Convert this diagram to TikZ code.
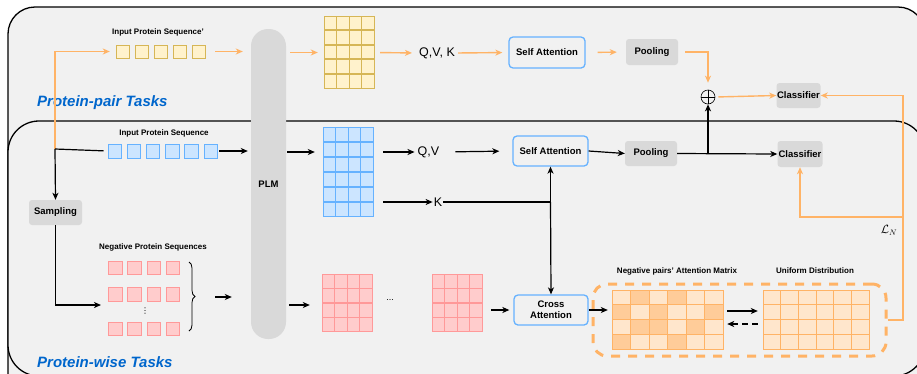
\documentclass[tikz,border=0pt]{standalone}
\usepackage{fontspec}
\setmainfont{Liberation Sans}
\newfontfamily\symfont{DejaVu Sans}
\usepackage{amsmath,amssymb}
\usetikzlibrary{arrows.meta,positioning,calc,decorations.pathreplacing}
\definecolor{bggray}{HTML}{F1F1F1}
\definecolor{boxgray}{HTML}{D9D9D9}
\definecolor{attblue}{HTML}{66B2FF}
\definecolor{cellblue}{HTML}{CCE5FF}
\definecolor{cellyel}{HTML}{FFF2CC}
\definecolor{lineyel}{HTML}{D6B656}
\definecolor{cellpink}{HTML}{FFCCCC}
\definecolor{linepink}{HTML}{FF9999}
\definecolor{lorange}{HTML}{FFB366}
\definecolor{cellorg}{HTML}{FFE6CC}
\definecolor{darkorg}{HTML}{FFCC99}
\definecolor{taskblue}{HTML}{0066CC}
\newcommand{\boxfont}{\bfseries\fontsize{9.5}{11}\selectfont}
\newcommand{\lblfont}{\bfseries\fontsize{8}{9.5}\selectfont}

\begin{document}
\begin{tikzpicture}[x=1pt,y=-1pt,
    gbox/.style={fill=boxgray, rounded corners=3pt, inner sep=0pt, font=\boxfont},
    abox/.style={draw=attblue, line width=1.3pt, rounded corners=4pt, inner sep=0pt, font=\boxfont, align=center},
    plmbar/.style={fill=boxgray, rounded corners=17pt, minimum width=35pt, minimum height=310pt, inner sep=0pt, font=\boxfont},
    lbl/.style={font=\lblfont, inner sep=1pt},
    qk/.style={font=\fontsize{12.5}{14}\selectfont, inner sep=1pt},
    task/.style={font=\bfseries\itshape\fontsize{15}{17}\selectfont, text=taskblue, inner sep=0pt},
    arr/.style={-{Stealth[length=7pt,width=6pt,inset=2pt]}, line width=1.2pt},
    oarr/.style={arr, lorange, line width=1.4pt},
    bline/.style={line width=1.2pt},
    ysq/.style={draw=lineyel, fill=cellyel, minimum size=13pt, inner sep=0pt},
    bsq/.style={draw=attblue, fill=cellblue, minimum size=13.5pt, inner sep=0pt},
    psq/.style={draw=linepink, fill=cellpink, minimum size=13.5pt, inner sep=0pt},
    mat/.style={inner sep=0pt},
    ycell/.style={draw=lineyel, fill=cellyel, line width=0.8pt},
    bcell/.style={draw=attblue, fill=cellblue, line width=0.8pt},
    pcell/.style={draw=linepink, fill=cellpink, line width=0.8pt},
    ocell/.style={draw=lorange, fill=cellorg, line width=0.8pt},
    dcell/.style={draw=lorange, fill=darkorg, line width=0.8pt}]

\useasboundingbox (0,0) rectangle (917,373);
\clip (0,0) rectangle (917,373);
\fill[white] (0,0) rectangle (917,373);

% task panels
\draw[fill=bggray, line width=1.3pt, rounded corners=27pt] (8,7) rectangle (925,430);
\draw[fill=bggray, line width=1.3pt, rounded corners=31pt] (8,121) rectangle (925,376);
\node[task, anchor=west] (pairlbl) at (37,103) {Protein-pair Tasks};
\node[task, anchor=west] (wiselbl) at (37,362) {Protein-wise Tasks};

% language model
\node[plmbar] (plm) at (268.5,184) {PLM};

% input sequences
\node[lbl] (ylbl) at (158,32) {Input Protein Sequence'};
\foreach \i in {0,...,4}
    \node[ysq] (y\i) at (122.5+\i*19,51.5) {};
\node[lbl] (blbl) at (164,133) {Input Protein Sequence};
\foreach \i in {0,...,5}
    \node[bsq] (b\i) at (114.5+\i*19.2,151) {};
\node[lbl] (nlbl) at (153,247) {Negative Protein Sequences};
\foreach \r/\yy in {0/267.5,1/294,2/328.5}
    \foreach \i in {0,...,3}
        \node[psq] (p\r\i) at (115+\i*19.3,\yy) {};
\node[inner sep=0pt] (vdots) at (145,311) {\symfont\fontsize{8}{8}\selectfont ⋮};
\draw[decorate, decoration={brace, amplitude=6pt}, line width=0.8pt] (189,262) -- (189,331);
\coordinate (brtip) at (199,297);

% embeddings
\node[mat, minimum width=50pt, minimum height=73pt] (ymat) at (349,52.5) {};
\foreach \r in {0,...,4}
    \foreach \c in {0,...,3}
        \draw[ycell] (324+\c*12.5,16+\r*14.6) rectangle ++(12.5,13.6);
\node[mat, minimum width=50pt, minimum height=89pt] (bmat) at (348,171.5) {};
\foreach \r in {0,...,5}
    \foreach \c in {0,...,3}
        \draw[bcell] (323+\c*12.5,127+\r*15) rectangle ++(12.5,14);
\node[mat, minimum width=50pt, minimum height=58pt] (pmat1) at (347,303) {};
\node[mat, minimum width=50pt, minimum height=58pt] (pmat2) at (457,303) {};
\foreach \x in {322,432}
    \foreach \r in {0,...,3}
        \foreach \c in {0,...,3}
            \draw[pcell] (\x+\c*12.5,274+\r*14.5) rectangle ++(12.5,14);
\node (dots) at (390,300) {\fontsize{9}{9}\selectfont ...};

% query / key labels
\node[qk] (qvk) at (437,53) {Q,V, K};
\node[qk] (qv) at (428.5,152) {Q,V};
\node[qk] (k) at (438,202) {K};

% blocks
\node[abox, minimum width=76pt, minimum height=31pt] (sa1) at (547,52.5) {Self Attention};
\node[gbox, minimum width=52pt, minimum height=26pt] (pool1) at (652,52) {Pooling};
\node[circle, draw, line width=0.6pt, minimum size=14pt, inner sep=0pt] (oplus) at (708,97) {};
\draw[line width=0.6pt] (oplus.north) -- (oplus.south) (oplus.west) -- (oplus.east);
\node[gbox, minimum width=44pt, minimum height=25pt] (cls1) at (798.5,95.5) {Classifier};
\node[abox, minimum width=75pt, minimum height=30pt] (sa2) at (550.5,151) {Self Attention};
\node[gbox, minimum width=52pt, minimum height=25pt] (pool2) at (651,153.5) {Pooling};
\node[gbox, minimum width=45pt, minimum height=26pt] (cls2) at (800,154) {Classifier};
\node[gbox, minimum width=53pt, minimum height=25pt] (samp) at (55.5,212.5) {Sampling};
\node[abox, minimum width=74pt, minimum height=30pt] (ca) at (551,310) {Cross\\Attention};

% attention matrices
\node[lbl] (albl) at (677,271) {Negative pairs' Attention Matrix};
\node[lbl] (ulbl) at (815,271) {Uniform Distribution};
\node[draw=lorange, line width=3pt, dash pattern=on 9pt off 8pt, rounded corners=14pt,
      minimum width=293pt, minimum height=72pt] (dbox) at (739.5,320) {};
\node[mat, minimum width=111pt, minimum height=59pt] (amat) at (667.5,319.5) {};
\node[mat, minimum width=106pt, minimum height=59pt] (umat) at (816,319.5) {};
\foreach \r in {0,...,3}
    \foreach \c in {0,...,5} {
        \draw[ocell] (612+\c*18.5,290+\r*14.75) rectangle ++(18.5,14.75);
        \draw[ocell] (763+\c*17.7,290+\r*14.75) rectangle ++(17.7,14.75);
    }
\foreach \c/\r in {1/0,3/0,0/1,2/1,5/1,1/2,2/2,4/2,0/3,3/3}
    \draw[dcell] (612+\c*18.5,290+\r*14.75) rectangle ++(18.5,14.75);

% protein-pair branch
\coordinate (split) at (55,149);
\draw[oarr, shorten >=6pt] (split) |- (y0.west);
\draw[oarr, shorten <=10pt, shorten >=8pt] (y4.east) -- (y4.east -| plm.west);
\draw[oarr, shorten <=4pt, shorten >=6pt] (plm.east |- ymat.west) -- (ymat.west);
\draw[oarr, shorten <=6pt, shorten >=6pt] (ymat.east) -- (qvk.west);
\draw[oarr, shorten <=2pt, shorten >=6pt] (qvk.east) -- (sa1.west);
\draw[oarr, shorten <=12pt, shorten >=9pt] (sa1.east) -- (pool1.west);
\draw[oarr, shorten <=7pt, shorten >=7pt] (pool1.east) -| (oplus.north);
\draw[oarr, shorten <=3pt] (oplus.east) -- (cls1.west);

% protein-wise branch
\draw[bline, shorten >=4pt] (split) -- (b0.west);
\draw[arr] (split) -- (samp.north);
\draw[arr, shorten <=2pt, shorten >=3pt] (b5.east) -- (b5.east -| plm.west);
\draw[arr, shorten <=1pt, shorten >=8pt] (plm.east |- qv) -- (bmat.west |- qv);
\draw[arr, shorten <=10pt, shorten >=2pt] (bmat.east |- qv) -- (qv.west);
\draw[arr, shorten <=15pt, shorten >=13pt] (qv.east) -- (sa2.west);
\draw[arr] (sa2.east) -- (pool2.west);
\draw[arr] (pool2.east) -- (cls2.west);
\draw[arr] (pool2.east -| oplus) -- (oplus.south);
\coordinate (kj) at (sa2 |- k);
\draw[arr, shorten <=10pt, shorten >=0pt] (bmat.east |- k) -- (k.west);
\draw[bline] (k.east) -- (kj);
\draw[arr] (kj) -- (sa2.south);
\draw[arr] (kj) -- (ca.north);
\coordinate (nin) at (101,305);
\draw[arr] (samp.south) |- (nin);
\draw[arr, shorten <=16pt, shorten >=19pt] (brtip) -- (brtip -| plm.west);
\draw[arr, shorten <=3pt, shorten >=12pt] (plm.east |- nin) -- (pmat1.west |- nin);
\draw[arr, shorten <=9pt, shorten >=4pt] (pmat2.east |- ca.west) -- (ca.west);
\draw[arr, shorten >=4pt] (ca.east) -- (amat.west |- ca.east);
\draw[arr, shorten <=4pt, shorten >=5pt] ([yshift=8.5pt]amat.east) -- ([yshift=8.5pt]umat.west);
\draw[arr, dash pattern=on 6pt off 4pt, shorten <=5pt, shorten >=4pt] ([yshift=-4.5pt]umat.west) -- ([yshift=-4.5pt]amat.east);

% loss feedback
\coordinate (rgt) at (903,320);
\coordinate (lnk) at (903,217);
\draw[oarr] (dbox.east) -- (rgt) |- (cls1.east);
\draw[oarr] (lnk) -| (cls2.south);
\node (loss) at (889,230) {\fontsize{12}{12}\selectfont$\mathcal{L}_N$};
\end{tikzpicture}
\end{document}
